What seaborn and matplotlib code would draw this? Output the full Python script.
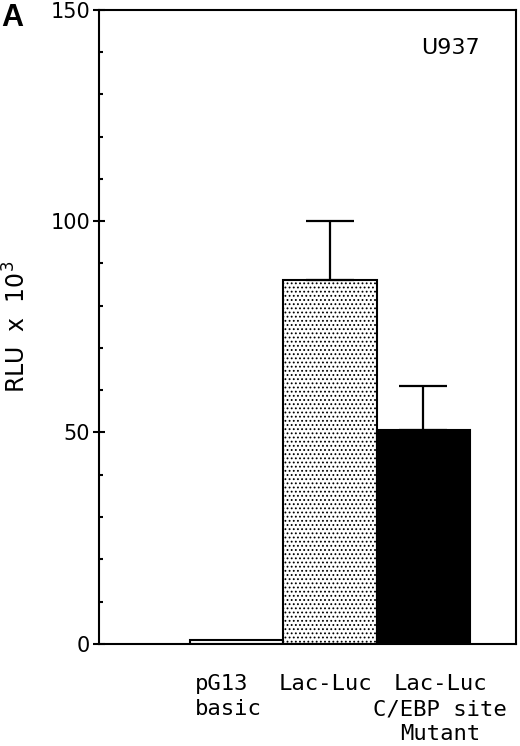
import matplotlib
matplotlib.use("Agg")
import matplotlib.pyplot as plt
import matplotlib.transforms as mtransforms
import numpy as np
import pandas as pd
import seaborn as sns
from matplotlib.ticker import MultipleLocator

# -- values (RLU x 10^3)
constructs = ["pG13\nbasic", "Lac-Luc", "Lac-Luc\nC/EBP site\nMutant"]
rlu = [1.0, 86.0, 50.5]
rlu_err = [0.0, 14.0, 10.5]
fills = ["white", "white", "black"]
hatches = ["", "....", ""]

df = pd.DataFrame({"construct": constructs, "rlu": rlu})

sns.set_style("ticks")
plt.rcParams["font.family"] = ["DejaVu Sans"]
plt.rcParams["hatch.linewidth"] = 0.8
plt.rcParams["hatch.color"] = "black"
for key in ["text.color", "axes.labelcolor", "xtick.color", "ytick.color", "axes.edgecolor"]:
    plt.rcParams[key] = "black"

fig = plt.figure(figsize=(5.2, 7.46), dpi=100)
ax = fig.add_axes([0.19, 0.137, 0.802, 0.85])

sns.barplot(
    data=df,
    x="construct",
    y="rlu",
    order=constructs,
    width=1.0,
    color="white",
    edgecolor="black",
    linewidth=1.5,
    errorbar=None,
    ax=ax,
)
for patch, fc, h in zip(ax.patches, fills, hatches):
    patch.set_facecolor(fc)
    patch.set_hatch(h)

# -- one-sided error bars (only where an error exists)
xs = np.arange(len(constructs))
mask = np.array(rlu_err) > 0
ax.errorbar(
    xs[mask],
    np.array(rlu)[mask],
    yerr=[np.zeros(mask.sum()), np.array(rlu_err)[mask]],
    fmt="none",
    ecolor="black",
    elinewidth=1.6,
    capsize=17,
    capthick=1.6,
)

ax.set_xlim(-1.47, 2.99)
ax.set_ylim(0, 150)
ax.yaxis.set_major_locator(MultipleLocator(50))
ax.yaxis.set_minor_locator(MultipleLocator(10))
ax.tick_params(axis="y", which="major", direction="inout", length=8.6, width=1.5, labelsize=15, pad=2)
ax.tick_params(axis="y", which="minor", direction="in", length=3, width=1.5)
ax.tick_params(axis="x", length=0, pad=22)

# x labels sit a little off the bar centres in the original
x_shift = [-8, -4, 17]
x_align = ["left", "center", "center"]
for lbl, dx, al in zip(ax.get_xticklabels(), x_shift, x_align):
    lbl.set_fontfamily("DejaVu Sans Mono")
    lbl.set_fontsize(16)
    lbl.set_linespacing(1.3)
    lbl.set_multialignment(al)
    lbl.set_transform(lbl.get_transform() + mtransforms.ScaledTranslation(dx / 100, 0, fig.dpi_scale_trans))

for side in ["left", "right", "top", "bottom"]:
    ax.spines[side].set_visible(True)
    ax.spines[side].set_linewidth(1.5)

ax.set_xlabel("")
ax.set_ylabel("RLU  x  10$^{3}$", fontsize=17, labelpad=14)

ax.text(0.844, 0.94, "U937", transform=ax.transAxes, ha="center", va="center", fontsize=16)
fig.text(0.003, 0.976, "A", fontsize=22, fontweight="bold", family=["Liberation Sans", "DejaVu Sans"],
         ha="left", va="center")

fig.savefig("out.png", dpi=100)
